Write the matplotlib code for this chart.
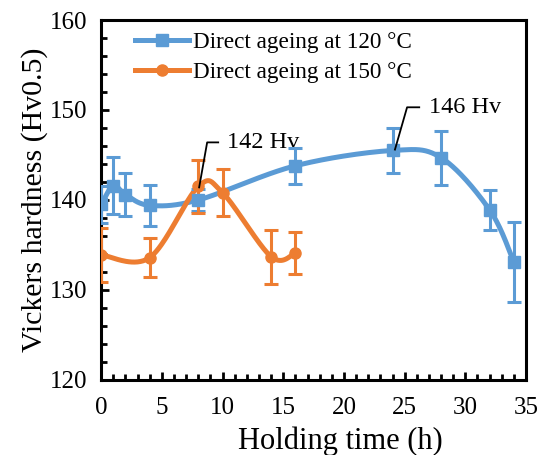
import numpy as np
import matplotlib
matplotlib.use("Agg")
import matplotlib.pyplot as plt
from matplotlib.ticker import MultipleLocator

plt.rcParams['font.family'] = ['Liberation Serif', 'DejaVu Serif']

# data
t_120 = [0, 1, 2, 4, 8, 16, 24, 28, 32, 34]
hv_120 = [139.5, 141.6, 140.6, 139.4, 140.0, 143.8, 145.5, 144.7, 138.9, 133.1]
err_120 = [2.1, 3.2, 2.4, 2.3, 1.2, 2.0, 2.5, 3.0, 2.2, 4.4]

t_150 = [0, 4, 8, 10, 14, 16]
hv_150 = [133.9, 133.6, 141.5, 140.8, 133.7, 134.1]
err_150 = [3.0, 2.2, 2.9, 2.6, 3.0, 2.3]

labels = ["Direct ageing at 120 °C", "Direct ageing at 150 °C"]
colors = ["#5B9BD5", "#ED7D31"]


def smooth(x, y, n=40):
    # Excel-like smoothed line: Catmull-Rom through the points
    x = np.asarray(x, float)
    y = np.asarray(y, float)
    p = np.column_stack([x, y])
    p = np.vstack([p[0], p, p[-1]])
    out = []
    s = np.linspace(0, 1, n)
    for i in range(1, len(p) - 2):
        p0, p1, p2, p3 = p[i - 1], p[i], p[i + 1], p[i + 2]
        c1 = p1 + (p2 - p0) / 6
        c2 = p2 - (p3 - p1) / 6
        seg = ((1 - s) ** 3)[:, None] * p1 + (3 * (1 - s) ** 2 * s)[:, None] * c1 \
            + (3 * (1 - s) * s ** 2)[:, None] * c2 + (s ** 3)[:, None] * p2
        out.append(seg)
    c = np.vstack(out)
    return c[:, 0], c[:, 1]


fig = plt.figure(figsize=(5.44, 4.55), dpi=100)
ax = fig.add_axes([0.186, 0.165, 0.781, 0.791])

series = [(t_120, hv_120, err_120, "s"), (t_150, hv_150, err_150, "o")]
for (t, hv, err, mk), lab, col in zip(series, labels, colors):
    sx, sy = smooth(t, hv)
    ax.plot(sx, sy, color=col, lw=3.6, zorder=3)
    ax.errorbar(t, hv, yerr=err, fmt="none", ecolor=col, elinewidth=2.2,
                capsize=5, capthick=2.2, zorder=4)
    ax.plot(t, hv, ls="none", marker=mk, ms=8, color=col, zorder=5)
    ax.plot([], [], color=col, lw=3.6, marker=mk, ms=8, label=lab)

# peak callouts
ax.plot([8.07, 8.73, 9.64], [141.4, 146.4, 146.4], color="black", lw=1.3, zorder=6)
ax.text(10.4, 146.4, "142 Hv", fontsize=17.5, va="center", ha="left")
ax.plot([24.2, 25.2, 26.2], [145.6, 150.3, 150.3], color="black", lw=1.3, zorder=6)
ax.text(27.0, 150.3, "146 Hv", fontsize=17.5, va="center", ha="left")

ax.set_xlim(0, 35)
ax.set_ylim(120, 160)
ax.xaxis.set_major_locator(MultipleLocator(5))
ax.xaxis.set_minor_locator(MultipleLocator(1))
ax.yaxis.set_major_locator(MultipleLocator(10))
ax.yaxis.set_minor_locator(MultipleLocator(2))
ax.tick_params(which="both", direction="in", width=2, labelsize=18,
               top=False, right=False)
ax.tick_params(which="major", length=6, pad=10)
ax.tick_params(axis="x", which="major", pad=12)
ax.tick_params(which="minor", length=4)
for sp in ax.spines.values():
    sp.set_linewidth(2.2)

ax.set_xlabel("Holding time (h)", fontsize=22)
ax.xaxis.set_label_coords(0.562, -0.13)
ax.set_ylabel("Vickers hardness (Hv0.5)", fontsize=21.5, labelpad=1)

ax.legend(loc="upper left", bbox_to_anchor=(0.08, 0.968), frameon=False,
          fontsize=16.7, handlelength=2.3, handletextpad=0.2, labelspacing=0.4,
          borderaxespad=0, borderpad=0)

fig.savefig("out.png", dpi=100)
plt.close(fig)
